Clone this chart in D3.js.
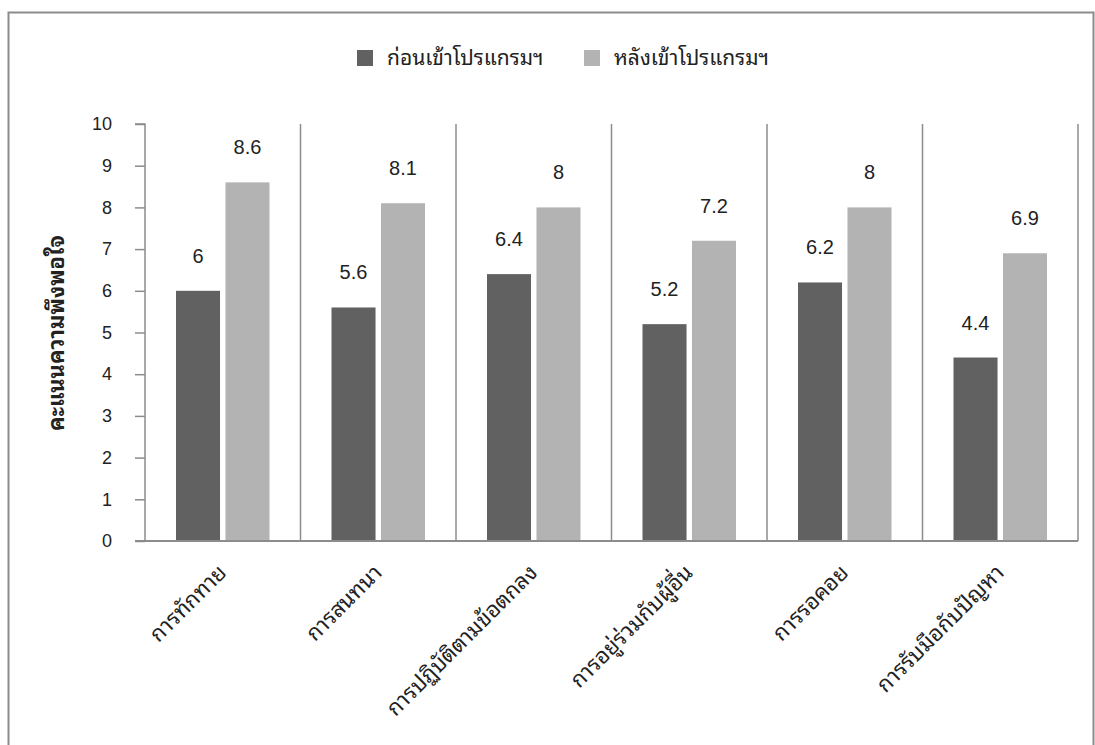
<!DOCTYPE html>
<html>
<head>
<meta charset="utf-8">
<script src="https://cdn.jsdelivr.net/npm/d3@7"></script>
<style>
  body { margin: 0; background: #fff; }
  text { font-family: "Liberation Sans", Arial, "Noto Sans Thai", "Noto Sans", sans-serif; fill: #222; }
</style>
</head>
<body>
<div id="chart"></div>
<script>
// data
var categories = ['การทักทาย', 'การสนทนา', 'การปฏิบัติตามข้อตกลง', 'การอยู่ร่วมกับผู้อื่น', 'การรอคอย', 'การรับมือกับปัญหา']
var seriesNames = ['ก่อนเข้าโปรแกรมฯ', 'หลังเข้าโปรแกรมฯ']
var before = [6, 5.6, 6.4, 5.2, 6.2, 4.4]
var after = [8.6, 8.1, 8, 7.2, 8, 6.9]
var yTicks = [0, 1, 2, 3, 4, 5, 6, 7, 8, 9, 10]
var yTitle = 'คะแนนความพึงพอใจ'

var colors = ['#616161', '#b3b3b3']
var thaiFont = '"Noto Sans Thai Looped", "Loma", "Garuda", "Noto Sans Thai", "Noto Sans", sans-serif'

var W = 1095, H = 745
var plot = {left: 145, right: 1078, top: 124, bottom: 541}

var svg = d3.select('#chart').append('svg')
  .attr('width', W)
  .attr('height', H)

// outer border
svg.append('rect')
  .attr('x', 8.5).attr('y', 12.5)
  .attr('width', 1085).attr('height', 745)
  .attr('fill', 'none')
  .attr('stroke', '#8c8c8c')
  .attr('stroke-width', 2)

var x = d3.scaleBand()
  .domain(categories)
  .range([plot.left, plot.right])
  .padding(0)

var y = d3.scaleLinear()
  .domain([0, 10])
  .range([plot.bottom, plot.top])

// inner scale for the two series inside each band
var inner = d3.scaleBand()
  .domain([0, 1])
  .range([31, x.bandwidth() - 31])
  .paddingInner(0.11)

// category separators
svg.append('g')
  .selectAll('line')
  .data(categories)
  .enter()
  .append('line')
  .attr('x1', function(d) { return x(d) + x.bandwidth() })
  .attr('x2', function(d) { return x(d) + x.bandwidth() })
  .attr('y1', plot.top)
  .attr('y2', plot.bottom)
  .attr('stroke', '#8c8c8c')
  .attr('stroke-width', 1.5)

// y axis
var yAxis = d3.axisLeft(y)
  .tickValues(yTicks)
  .tickSize(10)
  .tickPadding(23)

var ya = svg.append('g')
  .attr('transform', 'translate(' + plot.left + ',0)')
  .call(yAxis)
ya.selectAll('line').attr('stroke', '#8c8c8c').attr('stroke-width', 1.5)
ya.select('.domain').attr('stroke', '#8c8c8c').attr('stroke-width', 1.5)
  .attr('d', 'M-10,' + plot.top + 'H0V' + plot.bottom)
ya.selectAll('text')
  .style('font-size', '18px')
  .style('font-family', '"Liberation Sans", Arial, sans-serif')
  .attr('fill', '#222')

// bars
var series = [before, after]
series.forEach(function(vals, s) {
  svg.append('g')
    .selectAll('rect')
    .data(vals)
    .enter()
    .append('rect')
    .attr('x', function(d, i) { return x(categories[i]) + inner(s) })
    .attr('y', function(d) { return y(d) })
    .attr('width', inner.bandwidth())
    .attr('height', function(d) { return y(0) - y(d) })
    .attr('fill', colors[s])

  svg.append('g')
    .selectAll('text')
    .data(vals)
    .enter()
    .append('text')
    .attr('x', function(d, i) { return x(categories[i]) + inner(s) + inner.bandwidth() / 2 })
    .attr('y', function(d) { return y(d) - 28 })
    .attr('text-anchor', 'middle')
    .style('font-size', '20px')
    .text(function(d) { return d })
})

// baseline
svg.append('line')
  .attr('x1', plot.left - 10).attr('x2', plot.right)
  .attr('y1', plot.bottom).attr('y2', plot.bottom)
  .attr('stroke', '#8c8c8c')
  .attr('stroke-width', 2)

// x labels
svg.append('g')
  .selectAll('text')
  .data(categories)
  .enter()
  .append('text')
  .attr('transform', function(d) {
    return 'translate(' + (x(d) + x.bandwidth() / 2 + 5) + ',' + 574 + ') rotate(-45)'
  })
  .attr('text-anchor', 'end')
  .style('font-size', '22px')
  .style('font-family', thaiFont)
  .text(function(d) { return d })

// y title
svg.append('text')
  .attr('transform', 'translate(64,' + 333 + ') rotate(-90)')
  .attr('text-anchor', 'middle')
  .style('font-size', '22px')
  .style('font-weight', 'bold')
  .style('font-family', thaiFont)
  .text(yTitle)

// legend
var legendX = [357, 584]
var legend = svg.append('g')
  .selectAll('g')
  .data(seriesNames)
  .enter()
  .append('g')
  .attr('transform', function(d, i) { return 'translate(' + legendX[i] + ',50)' })

legend.append('rect')
  .attr('width', 16).attr('height', 16)
  .attr('fill', function(d, i) { return colors[i] })

legend.append('text')
  .attr('x', 30).attr('y', 15)
  .style('font-size', '21px')
  .style('font-family', thaiFont)
  .text(function(d) { return d })
</script>
</body>
</html>
